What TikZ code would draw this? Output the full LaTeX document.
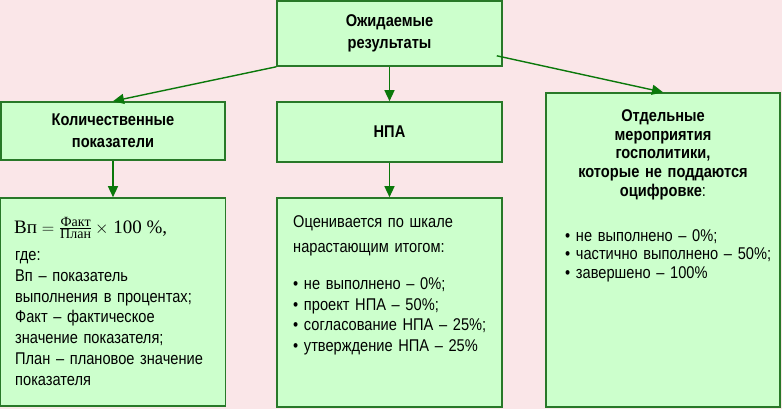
\documentclass[tikz,border=0pt]{standalone}
\usepackage{fontspec}
\setmainfont{Liberation Sans}[FakeStretch=0.86]
\newfontfamily\lserif{Liberation Serif}
\usetikzlibrary{arrows.meta,calc}
\definecolor{bgpink}{RGB}{250,230,232}
\definecolor{boxfill}{RGB}{204,255,204}
\definecolor{boxline}{RGB}{40,120,40}
\definecolor{arrowgreen}{RGB}{10,120,10}
\begin{document}
\begin{tikzpicture}[x=1pt,y=-1pt,
  box/.style={draw=boxline, line width=1.6pt, fill=boxfill, inner sep=0pt},
  title/.style={font=\fontsize{17}{22}\selectfont\bfseries, align=center},
  body/.style={align=left, inner sep=0pt, anchor=base west},
  arr/.style={draw=arrowgreen, line width=1.4pt, -{Triangle[length=11pt,width=10pt]}}]
\fill[bgpink] (0,0) rectangle (782,409);
\useasboundingbox (0,0) rectangle (782,409);
% boxes
\node[box, minimum width=225pt, minimum height=65pt, title] (top) at (389.5,33.5) {Ожидаемые\\результаты};
\node[box, minimum width=224pt, minimum height=58pt, title] (kol) at (113,131) {Количественные\\показатели};
\node[box, minimum width=225pt, minimum height=60pt, title] (npa) at (389.5,132) {НПА};
\node[box, minimum width=225pt, minimum height=208pt] (lowL) at (113,302) {};
\node[box, minimum width=225pt, minimum height=209pt] (lowM) at (389.5,302.5) {};
\node[box, minimum width=234pt, minimum height=314pt] (right) at (663,250) {};
% arrows
\coordinate (topR) at ($(top.south east)+(-6,-11)$);
\draw[arr] (top.south west) -- (kol.north);
\draw[arr] (top.south) -- (npa.north);
\draw[arr] (topR) -- (right.north);
\draw[arr] (kol.south) -- (lowL.north);
\draw[arr] (npa.south) -- (lowM.north);
% left lower box
\node[anchor=base west, inner sep=0pt] (formula) at (14,233)
  {\lserif\fontsize{19}{21}\selectfont Вп $=\frac{\mbox{\lserif\fontsize{14}{14}\selectfont Факт}}{\mbox{\lserif\fontsize{14}{14}\selectfont План}}\,\times$ 100~\%,};
\node[body, text width=205pt, font=\fontsize{17}{20.8}\selectfont] (lowLtext) at (15,260.5)
  {где:\\Вп – показатель\\выполнения в процентах;\\Факт – фактическое\\значение показателя;\\План – плановое значение\\показателя};
% middle lower box
\node[body, text width=205pt, font=\fontsize{17}{20.5}\selectfont] (lowMtext) at (293,227.5)
  {Оценивается по шкале\\[4.2pt]нарастающим итогом:\\[17pt]• не выполнено – 0\%;\\• проект НПА – 50\%;\\• согласование НПА – 25\%;\\• утверждение НПА – 25\%};
% right box
\node[anchor=base, inner sep=0pt, text width=230pt, align=center, font=\fontsize{17}{18.7}\selectfont\bfseries] (rtitle) at (663,121.5)
  {Отдельные\\мероприятия\\госполитики,\\которые не поддаются\\оцифровке{\mdseries:}};
\node[body, text width=210pt, font=\fontsize{17}{18.3}\selectfont] (rtext) at (565,241.5)
  {• не выполнено – 0\%;\\• частично выполнено – 50\%;\\• завершено – 100\%};
\end{tikzpicture}
\end{document}
